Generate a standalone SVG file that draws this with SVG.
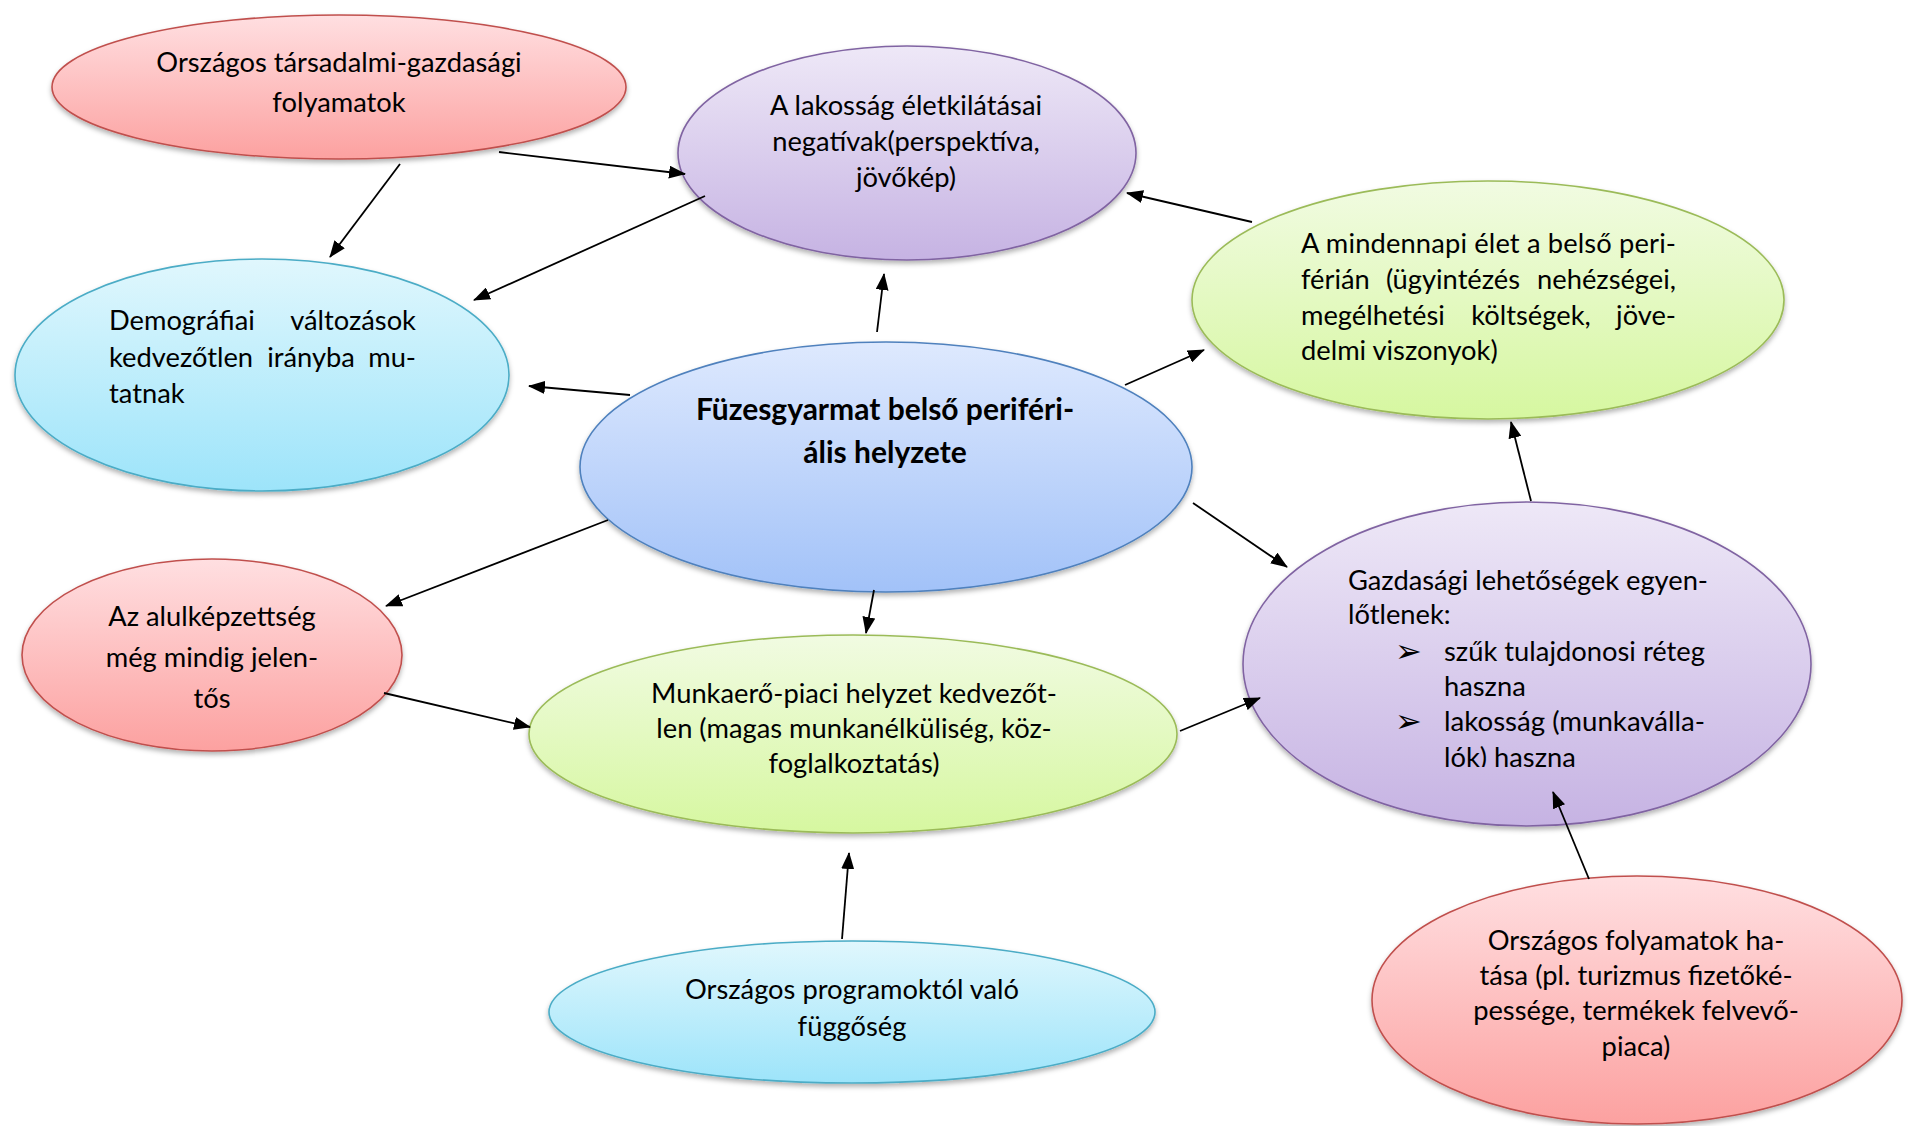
<svg xmlns="http://www.w3.org/2000/svg" width="1917" height="1126" viewBox="0 0 1917 1126">
<style>
.t{font-family:Lato,"Open Sans","DejaVu Sans",sans-serif;font-size:27.3px;fill:#000}
.c{text-anchor:middle}
.e{text-anchor:end}
.b{font-weight:bold;font-size:30px}
.bul{font-family:"DejaVu Sans",sans-serif;font-size:32px;fill:#000}
.conn line{stroke:#000;stroke-width:1.8;marker-end:url(#arr)}
.red{fill:url(#gRed);stroke:#C0504D;stroke-width:1.6}
.pur{fill:url(#gPur);stroke:#8064A2;stroke-width:1.6}
.cya{fill:url(#gCya);stroke:#4BACC6;stroke-width:1.6}
.blu{fill:url(#gBlu);stroke:#4F81BD;stroke-width:1.6}
.grn{fill:url(#gGrn);stroke:#9BBB59;stroke-width:1.6}
ellipse{filter:url(#sh)}
</style>
<defs>
<linearGradient id="gRed" x1="0" y1="0" x2="0" y2="1"><stop offset="0" stop-color="#FFDFE1"/><stop offset="1" stop-color="#FCA1A0"/></linearGradient>
<linearGradient id="gPur" x1="0" y1="0" x2="0" y2="1"><stop offset="0" stop-color="#EEE8F7"/><stop offset="1" stop-color="#C6B3E3"/></linearGradient>
<linearGradient id="gCya" x1="0" y1="0" x2="0" y2="1"><stop offset="0" stop-color="#E0F7FD"/><stop offset="1" stop-color="#9DE4FA"/></linearGradient>
<linearGradient id="gBlu" x1="0" y1="0" x2="0" y2="1"><stop offset="0" stop-color="#DEE9FE"/><stop offset="1" stop-color="#A2C2F8"/></linearGradient>
<linearGradient id="gGrn" x1="0" y1="0" x2="0" y2="1"><stop offset="0" stop-color="#F1FBE2"/><stop offset="1" stop-color="#D6F7A0"/></linearGradient>
<filter id="sh" x="-10%" y="-10%" width="120%" height="125%"><feDropShadow dx="0" dy="3" stdDeviation="2.5" flood-color="#000" flood-opacity="0.3"/></filter>
<marker id="arr" markerUnits="userSpaceOnUse" markerWidth="17" markerHeight="13" refX="16" refY="6.5" orient="auto"><path d="M0,0 L17,6.5 L0,13 z" fill="#000"/></marker>
<clipPath id="clipGazd"><rect x="1240" y="500" width="580" height="267"/></clipPath>
</defs>

<g id="n1">
<ellipse class="red" cx="339" cy="87" rx="287" ry="72"/>
<text class="t c" x="339" y="72">Országos társadalmi-gazdasági</text>
<text class="t c" x="339" y="112">folyamatok</text>
</g>

<g id="n2">
<ellipse class="pur" cx="907" cy="153" rx="229" ry="107"/>
<text class="t c" x="906" y="115">A lakosság életkilátásai</text>
<text class="t c" x="906" y="151">negatívak(perspektíva,</text>
<text class="t c" x="906" y="187">jövőkép)</text>
</g>

<g id="n3">
<ellipse class="blu" cx="886" cy="467" rx="306" ry="125"/>
<text class="t c b" x="885" y="420">Füzesgyarmat belső periféri-</text>
<text class="t c b" x="885" y="463">ális helyzete</text>
</g>

<g id="n4">
<ellipse class="cya" cx="262" cy="375" rx="247" ry="116"/>
<text class="t" x="109" y="330">Demográfiai</text>
<text class="t e" x="416" y="330">változások</text>
<text class="t" x="109" y="367">kedvezőtlen</text>
<text class="t c" x="311" y="367">irányba</text>
<text class="t e" x="416" y="367">mu-</text>
<text class="t" x="109" y="403">tatnak</text>
</g>

<g id="n5">
<ellipse class="grn" cx="1488" cy="300" rx="296" ry="119"/>
<text class="t" x="1301" y="253" textLength="375" lengthAdjust="spacing">A mindennapi élet a belső peri-</text>
<text class="t" x="1301" y="289">férián</text>
<text class="t c" x="1453" y="289">(ügyintézés</text>
<text class="t e" x="1676" y="289">nehézségei,</text>
<text class="t" x="1301" y="325">megélhetési</text>
<text class="t c" x="1531" y="325">költségek,</text>
<text class="t e" x="1676" y="325">jöve-</text>
<text class="t" x="1301" y="360">delmi viszonyok)</text>
</g>

<g id="n6">
<ellipse class="red" cx="212" cy="655" rx="190" ry="96"/>
<text class="t c" x="212" y="626">Az alulképzettség</text>
<text class="t c" x="212" y="667">még mindig jelen-</text>
<text class="t c" x="212" y="708">tős</text>
</g>

<g id="n7">
<ellipse class="grn" cx="853" cy="734" rx="324" ry="99"/>
<text class="t c" x="854" y="703">Munkaerő-piaci helyzet kedvezőt-</text>
<text class="t c" x="854" y="738">len (magas munkanélküliség, köz-</text>
<text class="t c" x="854" y="773">foglalkoztatás)</text>
</g>

<g id="n8">
<ellipse class="pur" cx="1527" cy="664" rx="284" ry="162"/>
<g clip-path="url(#clipGazd)">
<text class="t" x="1348" y="590" textLength="360" lengthAdjust="spacing">Gazdasági lehetőségek egyen-</text>
<text class="t" x="1348" y="624">lőtlenek:</text>
<text class="bul" x="1395" y="662">➢</text>
<text class="t" x="1444" y="661" textLength="261" lengthAdjust="spacingAndGlyphs">szűk tulajdonosi réteg</text>
<text class="t" x="1444" y="696">haszna</text>
<text class="bul" x="1395" y="732">➢</text>
<text class="t" x="1444" y="731" textLength="261" lengthAdjust="spacingAndGlyphs">lakosság (munkaválla-</text>
<text class="t" x="1444" y="767">lók) haszna</text>
</g>
</g>

<g id="n9">
<ellipse class="cya" cx="852" cy="1012" rx="303" ry="71"/>
<text class="t c" x="852" y="999">Országos programoktól való</text>
<text class="t c" x="852" y="1036">függőség</text>
</g>

<g id="n10">
<ellipse class="red" cx="1637" cy="1000" rx="265" ry="124"/>
<text class="t c" x="1636" y="950">Országos folyamatok ha-</text>
<text class="t c" x="1636" y="985">tása (pl. turizmus fizetőké-</text>
<text class="t c" x="1636" y="1020">pessége, termékek felvevő-</text>
<text class="t c" x="1636" y="1056">piaca)</text>
</g>

<g id="connectors" class="conn">
<line x1="400" y1="164" x2="330" y2="257"/>
<line x1="499" y1="152" x2="685" y2="174"/>
<line x1="705" y1="196" x2="474" y2="300"/>
<line x1="630" y1="395" x2="529" y2="386"/>
<line x1="877" y1="332" x2="884" y2="274"/>
<line x1="1252" y1="222" x2="1127" y2="193"/>
<line x1="1125" y1="385" x2="1204" y2="350"/>
<line x1="1531" y1="501" x2="1511" y2="422"/>
<line x1="1193" y1="503" x2="1287" y2="567"/>
<line x1="608" y1="520" x2="386" y2="606"/>
<line x1="874" y1="590" x2="866" y2="633"/>
<line x1="384" y1="693" x2="530" y2="727"/>
<line x1="1180" y1="731" x2="1260" y2="698"/>
<line x1="842" y1="939" x2="849" y2="853"/>
<line x1="1589" y1="879" x2="1553" y2="792"/>
</g>
</svg>
